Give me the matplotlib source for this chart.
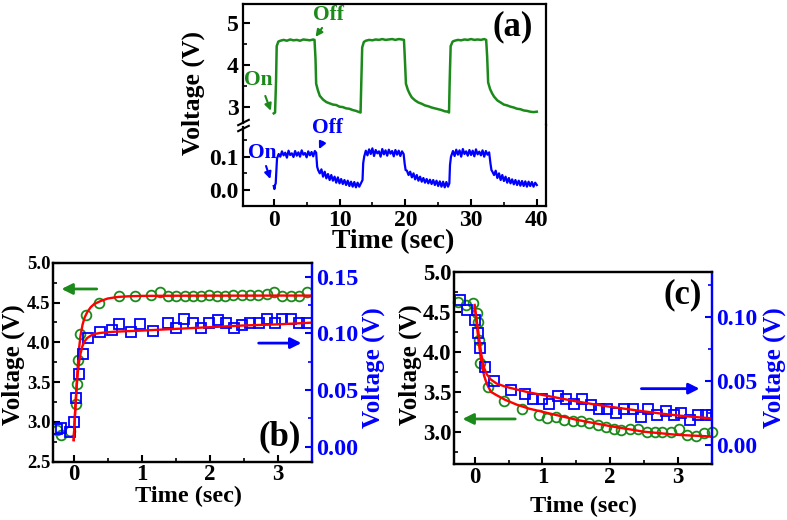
import numpy as np
import matplotlib as mpl
import matplotlib.pyplot as plt
from matplotlib.ticker import MultipleLocator, FormatStrFormatter

plt.rc('font', family='serif', serif=['Liberation Serif', 'DejaVu Serif'], weight='bold')
mpl.rcParams['axes.linewidth'] = 1.6
mpl.rcParams['axes.labelweight'] = 'bold'

green = '#1b8a1b'
blue = '#0000ff'
red = '#ff0000'

# ---------------- (a) full on/off cycles ----------------
ta_green = [0.0, 0.2, 0.35, 0.45, 0.7, 1.0, 1.5, 2.0, 2.5, 3.0, 3.5, 4.0, 4.5, 5.0, 5.5, 6.0, 6.2,
            6.35, 6.45, 6.7, 7.0, 7.5, 8.0, 8.5, 9.0, 9.5, 10.0, 10.5, 11.0, 11.5, 12.0, 12.5, 13.0, 13.2,
            13.3, 13.45, 13.7, 14.0, 14.5, 15.0, 15.5, 16.0, 16.5, 17.0, 17.5, 18.0, 18.5, 19.0, 19.5, 19.8,
            19.95, 20.1, 20.4, 20.7, 21.0, 21.5, 22.0, 22.5, 23.0, 23.5, 24.0, 24.5, 25.0, 25.5, 26.0, 26.5, 26.65,
            26.75, 26.9, 27.2, 27.5, 28.0, 28.5, 29.0, 29.5, 30.0, 30.5, 31.0, 31.5, 32.0, 32.3,
            32.45, 32.6, 32.9, 33.2, 33.5, 34.0, 34.5, 35.0, 35.5, 36.0, 36.5, 37.0, 37.5, 38.0, 38.5, 39.0, 39.5, 40.0]
va_green = [2.84, 2.86, 3.6, 4.45, 4.56, 4.58, 4.60, 4.58, 4.61, 4.59, 4.60, 4.58, 4.61, 4.60, 4.59, 4.61, 4.60,
            4.15, 3.55, 3.40, 3.26, 3.17, 3.11, 3.08, 3.05, 3.04, 3.00, 2.99, 2.96, 2.95, 2.92, 2.90, 2.87, 2.86,
            3.5, 4.42, 4.55, 4.58, 4.60, 4.59, 4.61, 4.60, 4.62, 4.60, 4.61, 4.62, 4.60, 4.62, 4.61, 4.60,
            4.10, 3.55, 3.40, 3.30, 3.22, 3.15, 3.10, 3.07, 3.03, 3.01, 2.98, 2.96, 2.94, 2.92, 2.89, 2.88, 2.86,
            3.6, 4.45, 4.56, 4.58, 4.60, 4.59, 4.61, 4.60, 4.62, 4.60, 4.61, 4.60, 4.62, 4.60,
            4.20, 3.58, 3.42, 3.32, 3.24, 3.15, 3.10, 3.05, 3.03, 3.00, 2.98, 2.95, 2.94, 2.91, 2.90, 2.88, 2.87, 2.88]

ta_blue = [0.0, 0.1, 0.2, 0.3, 0.4, 0.5,
           0.75, 1.0, 1.25, 1.5, 1.75, 2.0, 2.25, 2.5, 2.75, 3.0, 3.25, 3.5, 3.75, 4.0, 4.25, 4.5, 4.75, 5.0,
           5.25, 5.5, 5.75, 6.0, 6.25, 6.45, 6.6, 6.75,
           7.0, 7.25, 7.5, 7.75, 8.0, 8.25, 8.5, 8.75, 9.0, 9.25, 9.5, 9.75, 10.0, 10.25, 10.5, 10.75, 11.0,
           11.25, 11.5, 11.75, 12.0, 12.25, 12.5, 12.75, 13.0, 13.25, 13.5, 13.6, 13.75,
           14.0, 14.25, 14.5, 14.75, 15.0, 15.25, 15.5, 15.75, 16.0, 16.25, 16.5, 16.75, 17.0, 17.25, 17.5,
           17.75, 18.0, 18.25, 18.5, 18.75, 19.0, 19.25, 19.5, 19.75, 19.9, 20.05,
           20.25, 20.5, 20.75, 21.0, 21.25, 21.5, 21.75, 22.0, 22.25, 22.5, 22.75, 23.0, 23.25, 23.5, 23.75,
           24.0, 24.25, 24.5, 24.75, 25.0, 25.25, 25.5, 25.75, 26.0, 26.25, 26.5, 26.7, 26.8, 26.95,
           27.25, 27.5, 27.75, 28.0, 28.25, 28.5, 28.75, 29.0, 29.25, 29.5, 29.75, 30.0, 30.25, 30.5, 30.75,
           31.0, 31.25, 31.5, 31.75, 32.0, 32.25, 32.5, 32.75, 32.95, 33.1,
           33.25, 33.5, 33.75, 34.0, 34.25, 34.5, 34.75, 35.0, 35.25, 35.5, 35.75, 36.0, 36.25, 36.5, 36.75,
           37.0, 37.25, 37.5, 37.75, 38.0, 38.25, 38.5, 38.75, 39.0, 39.25, 39.5, 39.75, 40.0]
va_blue = [0.012, 0.003, 0.015, 0.020, 0.060, 0.095,
           0.108, 0.100, 0.116, 0.104, 0.112, 0.097, 0.118, 0.105, 0.110, 0.099, 0.117, 0.103, 0.113, 0.100,
           0.119, 0.106, 0.111, 0.098, 0.116, 0.104, 0.114, 0.101, 0.117, 0.112, 0.070, 0.060,
           0.050, 0.062, 0.040, 0.055, 0.035, 0.048, 0.030, 0.045, 0.028, 0.040, 0.022, 0.038, 0.020, 0.033,
           0.018, 0.030, 0.015, 0.028, 0.012, 0.025, 0.010, 0.024, 0.008, 0.022, 0.010, 0.020, 0.030, 0.080, 0.100,
           0.118, 0.104, 0.122, 0.108, 0.125, 0.102, 0.120, 0.110, 0.116, 0.100, 0.123, 0.107, 0.119, 0.103,
           0.121, 0.109, 0.117, 0.101, 0.120, 0.106, 0.118, 0.102, 0.116, 0.108, 0.080, 0.060,
           0.058, 0.045, 0.055, 0.038, 0.050, 0.032, 0.045, 0.028, 0.040, 0.025, 0.036, 0.022, 0.033, 0.020,
           0.031, 0.018, 0.030, 0.015, 0.028, 0.012, 0.026, 0.010, 0.025, 0.008, 0.024, 0.010, 0.020, 0.075, 0.100,
           0.117, 0.102, 0.121, 0.106, 0.119, 0.100, 0.123, 0.108, 0.116, 0.103, 0.120, 0.105, 0.118, 0.101,
           0.122, 0.107, 0.115, 0.104, 0.119, 0.100, 0.117, 0.106, 0.113, 0.080, 0.060,
           0.055, 0.045, 0.058, 0.036, 0.050, 0.030, 0.045, 0.027, 0.040, 0.022, 0.036, 0.020, 0.032, 0.017,
           0.030, 0.015, 0.028, 0.013, 0.027, 0.012, 0.026, 0.010, 0.025, 0.012, 0.024, 0.010, 0.022, 0.015]

# ---------------- (b) rise ----------------
tb_circ = [-0.25, -0.18, -0.06, 0.04, 0.045, 0.06, 0.09, 0.18, 0.37, 0.66, 0.90, 1.14, 1.27, 1.38, 1.51, 1.64,
           1.76, 1.87, 1.99, 2.11, 2.22, 2.35, 2.47, 2.59, 2.71, 2.84, 2.95, 3.07, 3.20, 3.31, 3.43]
vb_circ = [2.90, 2.84, 2.88, 3.23, 3.48, 3.78, 4.10, 4.34, 4.50, 4.58, 4.58, 4.59, 4.636, 4.587, 4.587, 4.583,
           4.583, 4.583, 4.596, 4.583, 4.583, 4.596, 4.596, 4.596, 4.596, 4.608, 4.636, 4.583, 4.583, 4.583, 4.629]
tb_sq = [-0.25, -0.18, -0.06, 0.0, 0.03, 0.08, 0.14, 0.21, 0.38, 0.56, 0.66, 0.84, 0.98, 1.17, 1.38, 1.50,
         1.62, 1.75, 1.87, 1.99, 2.12, 2.24, 2.36, 2.48, 2.60, 2.72, 2.84, 2.96, 3.07, 3.19, 3.31, 3.43]
vb_sq = [0.0153, 0.0162, 0.0132, 0.022, 0.0432, 0.0639, 0.0815, 0.0956, 0.101, 0.103, 0.108, 0.101, 0.108, 0.102, 0.109, 0.105,
         0.1125, 0.109, 0.105, 0.109, 0.112, 0.109, 0.105, 0.107, 0.109, 0.109, 0.1125, 0.109, 0.1125, 0.1125, 0.109, 0.109]
tb_fit_g = [0.0, 0.02, 0.04, 0.06, 0.08, 0.1, 0.13, 0.16, 0.2, 0.25, 0.3, 0.4, 0.5, 0.65, 0.8, 1.0, 1.5, 2.0, 2.5, 3.0, 3.5]
vb_fit_g = [2.77, 3.10, 3.40, 3.70, 3.93, 4.08, 4.22, 4.31, 4.38, 4.44, 4.48, 4.52, 4.55, 4.57, 4.578, 4.583, 4.585, 4.586,
            4.586, 4.587, 4.587]
tb_fit_b = [0.0, 0.02, 0.04, 0.06, 0.08, 0.1, 0.13, 0.16, 0.2, 0.25, 0.3, 0.4, 0.6, 1.0, 1.5, 2.0, 2.5, 3.0, 3.5]
vb_fit_b = [0.006, 0.030, 0.050, 0.065, 0.075, 0.082, 0.089, 0.093, 0.096, 0.098, 0.0995, 0.1005, 0.1015, 0.1025,
            0.104, 0.1055, 0.107, 0.108, 0.1095]

# ---------------- (c) decay ----------------
tc_circ = [-0.246, -0.132, -0.024, 0.035, 0.05, 0.064, 0.085, 0.20, 0.43, 0.70, 0.95, 1.07, 1.20, 1.32, 1.45, 1.57,
           1.69, 1.82, 1.94, 2.06, 2.16, 2.29, 2.41, 2.54, 2.66, 2.77, 2.90, 3.02, 3.13, 3.26, 3.38, 3.50]
vc_circ = [4.63, 4.59, 4.61, 4.49, 4.38, 4.15, 3.86, 3.56, 3.38, 3.29, 3.21, 3.17, 3.19, 3.15, 3.14, 3.14,
           3.11, 3.08, 3.06, 3.04, 3.02, 3.04, 3.04, 3.00, 3.00, 3.00, 3.00, 3.04, 2.96, 2.94, 2.98, 3.00]
tc_sq = [-0.22, -0.12, 0.0, 0.05, 0.08, 0.15, 0.28, 0.54, 0.74, 0.86, 0.99, 1.10, 1.23, 1.35, 1.47, 1.59,
         1.71, 1.84, 1.96, 2.09, 2.21, 2.33, 2.45, 2.56, 2.69, 2.82, 2.94, 3.05, 3.18, 3.29, 3.42, 3.51]
vc_sq = [0.113, 0.105, 0.0974, 0.087, 0.0754, 0.061, 0.050, 0.043, 0.040, 0.0356, 0.0356, 0.032, 0.038, 0.0356, 0.032, 0.0356,
         0.031, 0.028, 0.028, 0.0247, 0.028, 0.028, 0.022, 0.028, 0.0234, 0.0267, 0.0234, 0.0251, 0.0195, 0.0234, 0.0234, 0.0234]
tc_fit_g = [0.0, 0.03, 0.06, 0.1, 0.14, 0.18, 0.24, 0.32, 0.45, 0.62, 0.8, 1.0, 1.25, 1.5, 1.75, 2.0, 2.25, 2.5, 2.75,
            3.0, 3.25, 3.5]
vc_fit_g = [4.59, 4.35, 4.12, 3.86, 3.70, 3.60, 3.50, 3.46, 3.40, 3.34, 3.29, 3.25, 3.20, 3.15, 3.11, 3.07, 3.035, 3.00,
            2.98, 2.96, 2.95, 2.94]
tc_fit_b = [0.0, 0.03, 0.06, 0.1, 0.14, 0.18, 0.24, 0.32, 0.45, 0.6, 0.8, 1.0, 1.25, 1.5, 1.75, 2.0, 2.25, 2.5, 2.75,
            3.0, 3.25, 3.5]
vc_fit_b = [0.108, 0.097, 0.086, 0.070, 0.060, 0.055, 0.051, 0.048, 0.0455, 0.0435, 0.041, 0.039, 0.0365, 0.034,
            0.0318, 0.0298, 0.028, 0.0262, 0.0245, 0.023, 0.0218, 0.0208]


def ticks_in(ax, size, pad=2):
    ax.tick_params(direction='in', length=5, width=1.5, labelsize=size, pad=pad)
    ax.tick_params(which='minor', direction='in', length=3, width=1.2)


fig = plt.figure(figsize=(7.87, 5.2), dpi=100)

# ---------------- (a) broken y axis ----------------
ax_top = fig.add_axes([0.3088, 0.7596, 0.385, 0.2327])
ax_bot = fig.add_axes([0.3088, 0.6038, 0.385, 0.1558])

ax_top.plot(ta_green, va_green, color=green, lw=1.8)
ax_bot.plot(ta_blue, va_blue, color=blue, lw=1.6)

for ax in (ax_top, ax_bot):
    ax.set_xlim(-4.67, 41.4)
    ticks_in(ax, 17, pad=3)
ax_top.set_ylim(2.561, 5.46)
ax_bot.set_ylim(-0.048, 0.195)
ax_top.spines['bottom'].set_visible(False)
ax_bot.spines['top'].set_visible(False)
ax_top.spines['left'].set_bounds(2.6, 5.46)
ax_bot.spines['left'].set_bounds(-0.048, 0.19)
ax_top.tick_params(axis='x', which='both', bottom=False, labelbottom=False)
ax_top.set_yticks([3, 4, 5])
ax_top.yaxis.set_minor_locator(MultipleLocator(0.5))
ax_bot.set_yticks([0.0, 0.1])
ax_bot.yaxis.set_major_formatter(FormatStrFormatter('%.1f'))
ax_bot.yaxis.set_minor_locator(MultipleLocator(0.05))
ax_bot.set_xticks([0, 10, 20, 30, 40])
ax_bot.xaxis.set_minor_locator(MultipleLocator(5))

brk = dict(marker=[(-1, -0.5), (1, 0.5)], markersize=9, linestyle='none', color='k',
           mec='k', mew=1.5, clip_on=False)
ax_top.plot([0], [0.025], transform=ax_top.transAxes, **brk)
ax_bot.plot([0], [0.965], transform=ax_bot.transAxes, **brk)

ax_bot.set_xlabel('Time (sec)', fontsize=20)
ax_bot.xaxis.set_label_coords(0.496, -0.288)
fig.text(193 / 787, 1 - 93 / 520, 'Voltage (V)', rotation=90, ha='center', va='center',
         fontsize=18.5, fontweight='bold')

small_arrow = dict(arrowstyle='-|>', lw=1.5, mutation_scale=10)
ax_top.text(8.25, 5.2, 'Off', color=green, fontsize=15.5, ha='center', va='center')
ax_top.annotate('', xy=(6.1, 4.62), xytext=(7.6, 4.94), arrowprops=dict(color=green, **small_arrow))
ax_top.text(-2.4, 3.64, 'On', color=green, fontsize=15.5, ha='center', va='center')
ax_top.annotate('', xy=(-0.3, 2.84), xytext=(-1.43, 3.32), arrowprops=dict(color=green, **small_arrow))
ax_bot.text(8.1, 0.186, 'Off', color=blue, fontsize=15.5, ha='center', va='center')
ax_bot.annotate('', xy=(6.7, 0.115), xytext=(7.6, 0.152), arrowprops=dict(color=blue, **small_arrow))
ax_bot.text(-1.78, 0.111, 'On', color=blue, fontsize=15.5, ha='center', va='center')
ax_bot.annotate('', xy=(-0.4, 0.025), xytext=(-1.3, 0.08), arrowprops=dict(color=blue, **small_arrow))
ax_top.text(0.891, 0.81, '(a)', transform=ax_top.transAxes, fontsize=25, ha='center', va='center')

# ---------------- (b) and (c) ----------------
big_arrow = dict(arrowstyle='-|>', lw=2.0, mutation_scale=16)


def panel(rect, ylim, ylim2, left_size, right_size, right_step, rmax):
    ax = fig.add_axes(rect)
    ax2 = ax.twinx()
    ax.set_xlim(-0.3, 3.5)
    ax.set_ylim(*ylim)
    ax2.set_ylim(*ylim2)
    ticks_in(ax, left_size)
    ax.tick_params(axis='x', labelsize=16.5, pad=2)
    ticks_in(ax2, right_size, pad=3)
    ax2.tick_params(which='both', color=blue, labelcolor=blue)
    ax2.spines['right'].set_color(blue)
    ax.spines['right'].set_color(blue)
    ax.set_xticks([0, 1, 2, 3])
    ax.xaxis.set_minor_locator(MultipleLocator(0.5))
    ax.yaxis.set_major_locator(MultipleLocator(0.5))
    ax.yaxis.set_minor_locator(MultipleLocator(0.25))
    ax.yaxis.set_major_formatter(FormatStrFormatter('%.1f'))
    ax2.set_yticks(np.arange(0, rmax + 0.001, right_step))
    ax2.yaxis.set_minor_locator(MultipleLocator(0.025))
    ax2.yaxis.set_major_formatter(FormatStrFormatter('%.2f'))
    return ax, ax2


axb, axb2 = panel([0.0677, 0.1121, 0.3283, 0.3827], (2.5, 5.0), (-0.0132, 0.1624), 13.5, 17.5, 0.05, 0.15)
axb.plot(tb_circ, vb_circ, 'o', mfc='none', mec=green, ms=7, mew=1.3)
axb.plot(tb_fit_g, vb_fit_g, color=red, lw=1.7, zorder=3)
axb2.plot(tb_sq, vb_sq, 's', mfc='none', mec=blue, ms=6.5, mew=1.3)
axb2.plot(tb_fit_b, vb_fit_b, color=red, lw=1.7)
axb.annotate('', xy=(-0.22, 4.67), xytext=(0.38, 4.67), arrowprops=dict(color=green, **big_arrow))
axb.annotate('', xy=(3.39, 3.99), xytext=(2.68, 3.99), arrowprops=dict(color=blue, **big_arrow))
axb.text(0.877, 0.124, '(b)', transform=axb.transAxes, fontsize=25, ha='center', va='center')
axb.set_xlabel('Time (sec)', fontsize=17.5)
axb.xaxis.set_label_coords(0.522, -0.122)
axb.set_ylabel('Voltage (V)', fontsize=18)
axb.yaxis.set_label_coords(-0.11, 0.488)
axb2.set_ylabel('Voltage (V)', fontsize=18, color=blue)
axb2.yaxis.set_label_coords(1.195, 0.473)

axc, axc2 = panel([0.5773, 0.1077, 0.3271, 0.3687], (2.595, 5.0), (-0.0148, 0.1346), 16.5, 17, 0.05, 0.10)
axc.plot(tc_circ, vc_circ, 'o', mfc='none', mec=green, ms=7, mew=1.3, clip_on=False)
axc.plot(tc_fit_g, vc_fit_g, color=red, lw=1.7, zorder=3)
axc2.plot(tc_sq, vc_sq, 's', mfc='none', mec=blue, ms=6.5, mew=1.3)
axc2.plot(tc_fit_b, vc_fit_b, color=red, lw=1.7)
axc.annotate('', xy=(-0.22, 3.16), xytext=(0.64, 3.16), arrowprops=dict(color=green, **big_arrow))
axc.annotate('', xy=(3.36, 3.54), xytext=(2.42, 3.54), arrowprops=dict(color=blue, **big_arrow))
axc.text(0.888, 0.882, '(c)', transform=axc.transAxes, fontsize=25, ha='center', va='center')
axc.set_xlabel('Time (sec)', fontsize=17.5)
axc.xaxis.set_label_coords(0.501, -0.167)
axc.set_ylabel('Voltage (V)', fontsize=18)
axc.yaxis.set_label_coords(-0.125, 0.516)
axc2.set_ylabel('Voltage (V)', fontsize=18, color=blue)
axc2.yaxis.set_label_coords(1.199, 0.503)

fig.savefig('out.png', dpi=100)
plt.close(fig)
